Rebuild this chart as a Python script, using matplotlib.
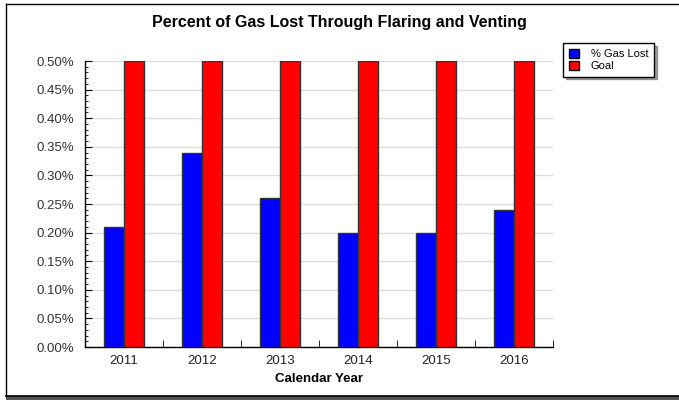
import matplotlib
matplotlib.use("Agg")
import matplotlib.pyplot as plt
import numpy as np
from matplotlib.ticker import MultipleLocator, FuncFormatter, FixedLocator
from matplotlib.patches import Rectangle, Patch
from matplotlib.lines import Line2D

years = ["2011", "2012", "2013", "2014", "2015", "2016"]
gas_lost = [0.21, 0.34, 0.26, 0.20, 0.20, 0.24]
goal = [0.50, 0.50, 0.50, 0.50, 0.50, 0.50]
series_names = ["% Gas Lost", "Goal"]

plt.rcParams['font.family'] = ['Liberation Sans', 'DejaVu Sans']

fig = plt.figure(figsize=(6.79, 4.0), dpi=100)
fig.patch.set_facecolor('white')

# outer frame with shadow
fig.add_artist(Rectangle((6/679, 0/400), 680/679, 4.5/400, transform=fig.transFigure,
                         facecolor='#555555', edgecolor='none'))
fig.add_artist(Line2D([5.5/679, 5.5/679], [4.5/400, 396/400], transform=fig.transFigure, color='black', lw=1))
fig.add_artist(Line2D([5.5/679, 1], [396/400, 396/400], transform=fig.transFigure, color='black', lw=1))
fig.add_artist(Line2D([5.5/679, 1], [4.5/400, 4.5/400], transform=fig.transFigure, color='black', lw=1.2))

ax = fig.add_axes([85/679, 1 - 347/400, 468/679, 286/400])
x = np.arange(len(years))
w = 0.256
ax.bar(x - w/2, gas_lost, w, color='#0000ff', edgecolor='#333333', linewidth=1, zorder=3)
ax.bar(x + w/2, goal, w, color='#ff0000', edgecolor='#333333', linewidth=1, zorder=3)

ax.set_xlim(-0.5, len(years) - 0.5)
ax.set_ylim(0, 0.50)
ax.set_xticks(x)
ax.set_xticklabels(years)
ax.xaxis.set_minor_locator(FixedLocator(np.arange(-0.5, len(years), 1.0)))
ax.tick_params(axis='x', which='major', length=0, pad=6, labelsize=9.5, labelcolor='#222222')
ax.tick_params(axis='x', which='minor', direction='in', length=5, color='black')
ax.yaxis.set_major_locator(MultipleLocator(0.05))
ax.yaxis.set_minor_locator(MultipleLocator(0.01))
ax.yaxis.set_major_formatter(FuncFormatter(lambda v, p: f"{v:.2f}%"))
ax.tick_params(axis='y', which='major', direction='in', length=5, labelsize=9.5, labelcolor='#333333', pad=8)
ax.tick_params(axis='y', which='minor', direction='in', length=2.5)
ax.grid(axis='y', which='major', color='#dddddd', linewidth=1, zorder=0)
for s in ['top', 'right']:
    ax.spines[s].set_visible(False)
for s in ['left', 'bottom']:
    ax.spines[s].set_color('black')
    ax.spines[s].set_linewidth(1)

ax.set_xlabel("Calendar Year", fontsize=9.5, fontweight='bold', labelpad=4)
fig.text(339/679, 1 - 22/400, "Percent of Gas Lost Through Flaring and Venting",
         ha='center', va='center', fontsize=11.5, fontweight='bold')

handles = [Patch(facecolor='#0000ff', edgecolor='black'), Patch(facecolor='#ff0000', edgecolor='black')]
leg = fig.legend(handles, series_names, loc='upper left', bbox_to_anchor=(563/679, 1 - 43/400),
                 fontsize=8, frameon=True, fancybox=False, shadow=True, borderpad=0.5,
                 handlelength=0.9, handleheight=0.9, handletextpad=1.1, labelspacing=0.15,
                 borderaxespad=0)
leg.get_frame().set_edgecolor('black')
leg.get_frame().set_linewidth(1)

fig.savefig("out.png", dpi=100)
